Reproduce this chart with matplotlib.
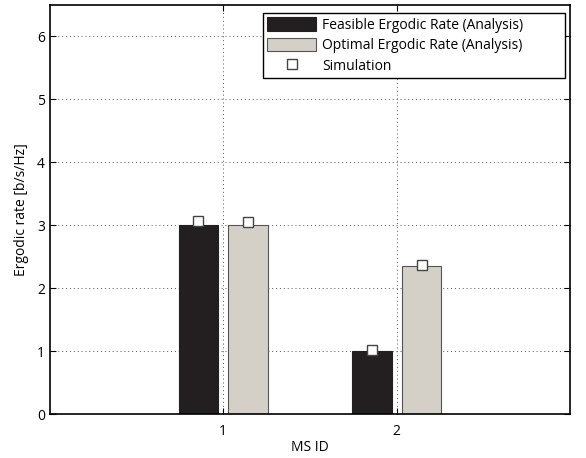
import matplotlib.pyplot as plt
import numpy as np

ms_id = [1, 2]
feasible = [3.0, 1.0]
optimal = [3.0, 2.36]
sim_feasible = [3.06, 1.01]
sim_optimal = [3.05, 2.37]

plt.rcParams['font.family'] = ['Open Sans', 'DejaVu Sans']

fig = plt.figure(figsize=(5.86, 4.58), dpi=100)
ax = fig.add_axes([0.085, 0.096, 0.888, 0.893])

x = np.array(ms_id)
w = 0.23
off = 0.143
b1 = ax.bar(x - off, feasible, w, color='#231f20', edgecolor='#231f20', linewidth=0.8,
            label='Feasible Ergodic Rate (Analysis)', zorder=2)
b2 = ax.bar(x + off, optimal, w, color='#d4d0c8', edgecolor='#555555', linewidth=0.8,
            label='Optimal Ergodic Rate (Analysis)', zorder=2)
m, = ax.plot(np.concatenate([x - off, x + off]), sim_feasible + sim_optimal, 's',
             markersize=6.5, markerfacecolor='white', markeredgecolor='#444444',
             markeredgewidth=1.0, linestyle='none', label='Simulation', zorder=3)

ax.set_xlim(0, 3)
ax.set_ylim(0, 6.5)
ax.set_xticks([1, 2])
ax.set_yticks(range(0, 7))
ax.grid(True, linestyle=(0, (1, 3)), color='#555555', linewidth=0.7, zorder=0)
ax.tick_params(direction='in', labelsize=10, length=4, top=True, right=True)
ax.tick_params(axis='x', pad=7)
ax.set_xlabel('MS ID', fontsize=10, labelpad=1)
ax.set_ylabel('Ergodic rate [b/s/Hz]', fontsize=10, labelpad=6)
for s in ax.spines.values():
    s.set_linewidth(1.2)

leg = ax.legend([b1, b2, m], [b1.get_label(), b2.get_label(), m.get_label()],
                loc='upper left', bbox_to_anchor=(0.41, 0.0, 0.58, 0.98),
                mode='expand', borderaxespad=0,
                fontsize=10, fancybox=False, framealpha=1,
                edgecolor='black', borderpad=0.3, labelspacing=0.36,
                handlelength=3.5, handleheight=1.1, handletextpad=0.45)
leg.get_frame().set_linewidth(1.0)

fig.savefig('out.png', dpi=100)
